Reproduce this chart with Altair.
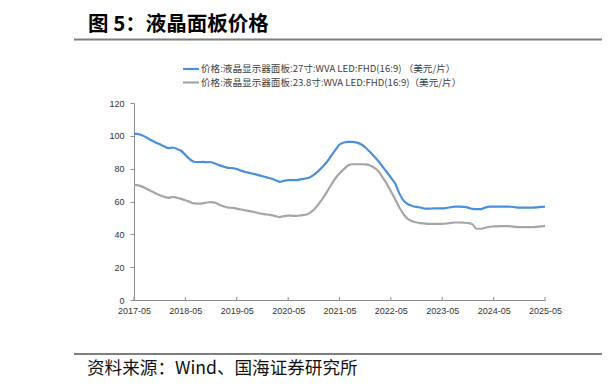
import altair as alt
import pandas as pd

# ---------------- data ----------------
months = pd.date_range("2017-05-01", periods=97, freq="MS").strftime("%Y-%m-%dT00:00:00").tolist()

series_names = [
    "价格:液晶显示器面板:27寸:WVA LED:FHD(16:9) （美元/片）",
    "价格:液晶显示器面板:23.8寸:WVA LED:FHD(16:9)（美元/片）",
]

price_27 = [
    101.4, 101.0, 100.2, 98.8, 97.3, 96.0, 94.8, 93.6, 92.5, 92.9, 92.0, 90.9,
    88.4, 85.8, 84.2, 84.0, 84.1, 84.0, 83.9, 83.0, 82.0, 81.2, 80.5, 80.3,
    79.8, 78.8, 78.0, 77.4, 76.8, 76.1, 75.4, 74.7, 74.0, 73.0, 72.0, 72.6,
    73.0, 73.0, 73.0, 73.6, 74.0, 74.6, 76.3, 78.5, 81.1, 84.2, 87.6, 91.3,
    94.7, 95.9, 96.3, 96.3, 95.9, 94.9, 92.9, 90.4, 87.6, 84.6, 81.5, 78.1,
    74.6, 70.9, 64.8, 60.4, 58.3, 57.3, 56.7, 56.3, 55.7, 55.7, 55.8, 55.8,
    55.8, 56.1, 56.5, 56.9, 56.9, 56.7, 56.3, 55.5, 55.3, 55.4, 56.3, 56.9,
    56.9, 56.9, 56.9, 56.9, 56.8, 56.5, 56.3, 56.3, 56.3, 56.3, 56.4, 56.7,
    56.9,
]

price_238 = [
    70.1, 69.8, 68.9, 67.6, 66.3, 65.0, 63.8, 62.9, 62.2, 62.8, 62.3, 61.6,
    60.8, 59.8, 58.8, 58.7, 58.9, 59.4, 59.6, 59.2, 57.9, 57.0, 56.3, 56.1,
    55.7, 55.1, 54.6, 54.1, 53.6, 53.0, 52.5, 52.1, 51.7, 51.1, 50.5, 51.1,
    51.4, 51.3, 51.3, 51.6, 51.9, 53.1, 55.1, 58.2, 61.8, 65.9, 69.9, 74.0,
    77.0, 79.7, 81.9, 82.7, 82.7, 82.7, 82.6, 82.1, 80.7, 78.5, 75.0, 70.9,
    66.3, 61.4, 56.3, 52.1, 49.2, 48.0, 47.2, 46.8, 46.5, 46.4, 46.4, 46.4,
    46.4, 46.6, 47.0, 47.2, 47.2, 47.1, 46.9, 46.2, 43.4, 43.4, 44.0, 44.6,
    44.8, 44.9, 45.0, 45.0, 44.9, 44.6, 44.4, 44.4, 44.4, 44.4, 44.5, 44.8,
    45.2,
]

tick_years = [2017, 2018, 2019, 2020, 2021, 2022, 2023, 2024, 2025]
y_ticks = [0, 20, 40, 60, 80, 100, 120]

title_text = "图 5：液晶面板价格"
source_text = "资料来源：Wind、国海证券研究所"

colors = ["#4A8FD9", "#A6A6A6"]

# ---------------- build ----------------
df = pd.DataFrame({
    "date": months * 2,
    "value": price_27 + price_238,
    "series": [series_names[0]] * len(price_27) + [series_names[1]] * len(price_238),
})

tick_df = pd.DataFrame({"date": [f"{y}-05-01T00:00:00" for y in tick_years]})

W, H = 411, 197
FONT = "Liberation Sans"
CJK = "Noto Sans CJK SC"

x_dom = [alt.DateTime(year=2017, month=5, date=1), alt.DateTime(year=2025, month=5, date=1)]
x_vals = [alt.DateTime(year=y, month=5, date=1) for y in tick_years]

lines = alt.Chart(df).mark_line(strokeWidth=2.2, interpolate="monotone").encode(
    x=alt.X("date:T",
            scale=alt.Scale(domain=x_dom, nice=False),
            axis=alt.Axis(values=x_vals, format="%Y-%m", title=None, ticks=False,
                          tickSize=0, labelPadding=6, grid=False, labelFlush=False,
                          domainColor="#8C8C8C", labelColor="#333333",
                          labelFontSize=9, labelFont=FONT)),
    y=alt.Y("value:Q",
            scale=alt.Scale(domain=[0, 120], nice=False),
            axis=alt.Axis(values=y_ticks, title=None, tickSize=4, labelPadding=6,
                          grid=False, domainColor="#8C8C8C", tickColor="#8C8C8C",
                          labelColor="#333333", labelFontSize=9, labelFont=FONT)),
    color=alt.Color("series:N", scale=alt.Scale(domain=series_names, range=colors), legend=None),
)

xticks = alt.Chart(tick_df).mark_rule(color="#8C8C8C", strokeWidth=1).encode(
    x="date:T",
    y=alt.value(H),
    y2=alt.value(H - 3),
)

one = pd.DataFrame({"t": [0]})

title = alt.Chart(pd.DataFrame({"t": [title_text]})).mark_text(
    align="left", baseline="middle", font=CJK, fontSize=20.5, fontWeight="bold", color="#000000"
).encode(text="t:N", x=alt.value(-46), y=alt.value(-78))

header_rule = alt.Chart(one).mark_rule(color="#7F7F7F", strokeWidth=2).encode(
    x=alt.value(-60), x2=alt.value(468), y=alt.value(-63.5))

footer_rule = alt.Chart(one).mark_rule(color="#7F7F7F", strokeWidth=2).encode(
    x=alt.value(-60), x2=alt.value(468), y=alt.value(251))

footer = alt.Chart(pd.DataFrame({"t": [source_text]})).mark_text(
    align="left", baseline="middle", font=CJK, fontSize=17.6, color="#111111"
).encode(text="t:N", x=alt.value(-47), y=alt.value(265.5))

legend_layers = []
for i, (name, col) in enumerate(zip(series_names, colors)):
    yy = -34 + 13.5 * i
    legend_layers.append(
        alt.Chart(one).mark_rule(color=col, strokeWidth=2.2).encode(
            x=alt.value(49), x2=alt.value(65), y=alt.value(yy)))
    legend_layers.append(
        alt.Chart(pd.DataFrame({"t": [name]})).mark_text(
            align="left", baseline="middle", font=CJK, fontSize=9.6, color="#404040"
        ).encode(text="t:N", x=alt.value(67), y=alt.value(yy)))

chart = alt.layer(
    lines, xticks, title, header_rule, footer_rule, footer, *legend_layers
).properties(
    width=W, height=H,
    padding={"left": 126, "top": 95, "right": 57, "bottom": 78},
    autosize=alt.AutoSizeParams(type="none"),
    background="white",
).configure_view(stroke=None)

chart.save("out.html", embed_options={"renderer": "svg", "actions": False})
